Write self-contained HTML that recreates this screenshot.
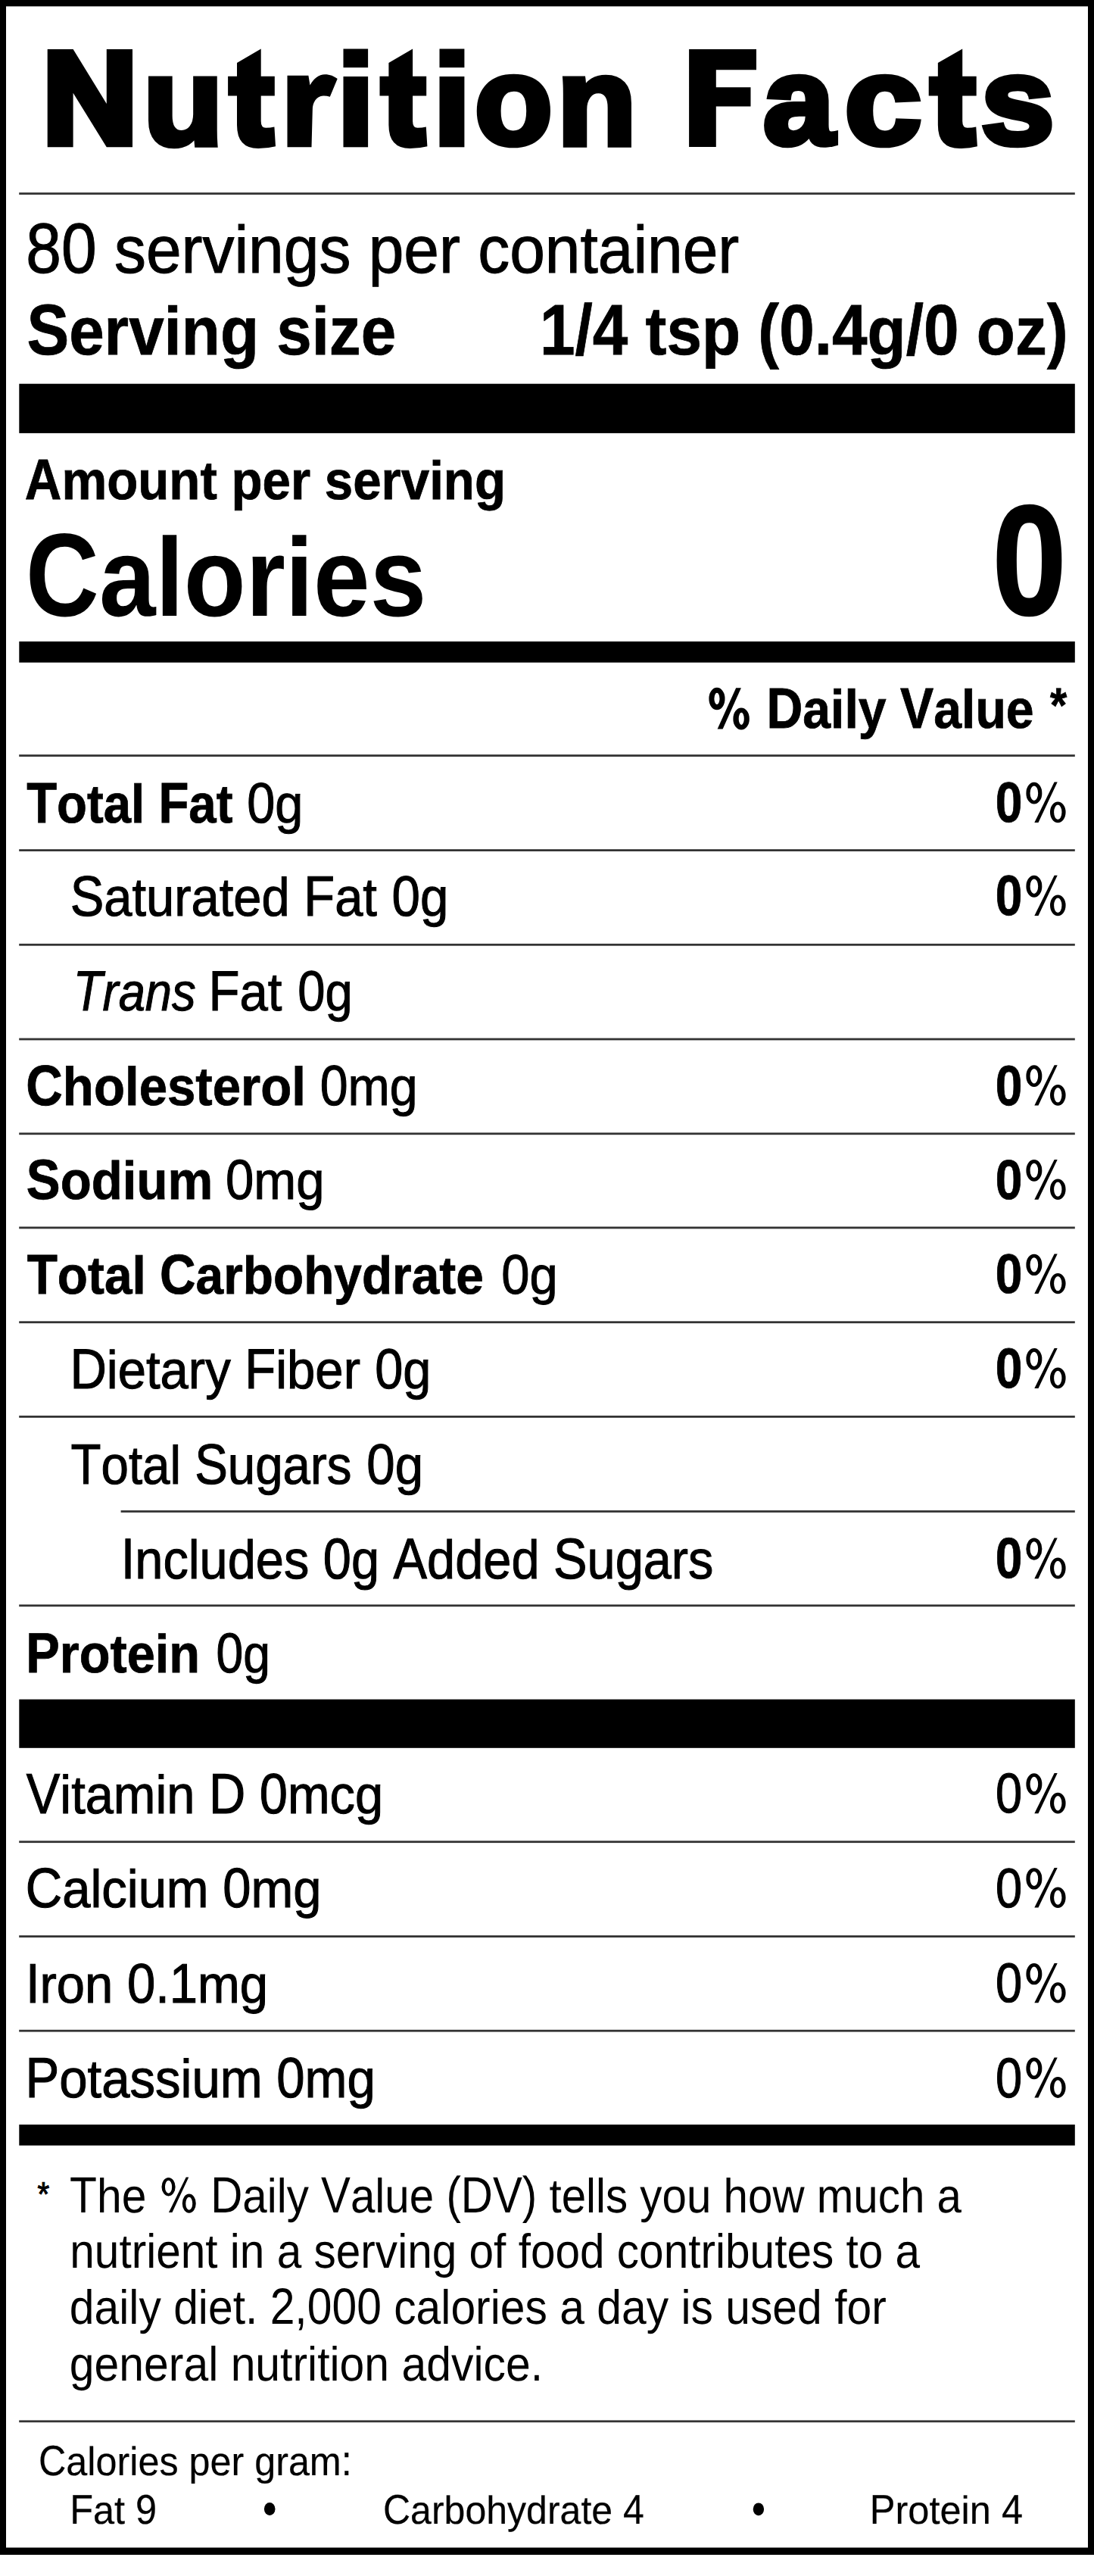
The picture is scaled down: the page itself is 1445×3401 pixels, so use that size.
<!DOCTYPE html>
<html><head><meta charset="utf-8"><style>
html,body{margin:0;padding:0;background:#fff;}
body{width:1445px;height:3401px;overflow:hidden;}
svg{display:block;}
svg text{font-family:"Liberation Sans",sans-serif;font-kerning:none;text-rendering:geometricPrecision;white-space:pre;}
</style></head><body>
<svg width="1445" height="3401" viewBox="0 0 1445 3401">
<rect x="0.00" y="0.00" width="1445.00" height="3373.00" fill="#000"/>
<rect x="8.00" y="8.40" width="1429.00" height="3355.10" fill="#fff"/>
<path d="M62.7,65.1 H96.6 L140.8,137 V65.1 H175 V194.3 H140.8 L96.6,122.7 V194.3 H62.7 Z" fill="#000"/>
<path d="M910.1,65.1 H999 V92.2 H945.8 V115.3 H991.5 V140.5 H945.8 V194 H910.1 Z" fill="#000"/>
<path transform="translate(301.10,0) scale(1.0000,1)" d="M11.9,83 L43.6,64.5 L43.6,100.7 L61.7,100.7 L61.7,126.6 L43.6,126.6 L43.6,160 Q43.6,168.8 50,168.8 Q56,168.8 61.3,167.5 L62.9,193.2 Q52,196 40,196 Q11.9,196 11.9,165 L11.9,126.6 L0,126.6 L0,100.7 L11.9,100.7 Z" fill="#000"/>
<path transform="translate(501.50,0) scale(1.0000,1)" d="M11.9,83 L43.6,64.5 L43.6,100.7 L61.7,100.7 L61.7,126.6 L43.6,126.6 L43.6,160 Q43.6,168.8 50,168.8 Q56,168.8 61.3,167.5 L62.9,193.2 Q52,196 40,196 Q11.9,196 11.9,165 L11.9,126.6 L0,126.6 L0,100.7 L11.9,100.7 Z" fill="#000"/>
<path transform="translate(1226.70,0) scale(1.0207,1)" d="M11.9,83 L43.6,64.5 L43.6,100.7 L61.7,100.7 L61.7,126.6 L43.6,126.6 L43.6,160 Q43.6,168.8 50,168.8 Q56,168.8 61.3,167.5 L62.9,193.2 Q52,196 40,196 Q11.9,196 11.9,165 L11.9,126.6 L0,126.6 L0,100.7 L11.9,100.7 Z" fill="#000"/>
<path d="M379.5,99.8 L407.4,99.8 L409.5,112.6 C414,104 421,98.2 429.2,98.2 C436,98.2 441,100.5 445.7,104 L435.8,127.8 C432.5,126.8 429.5,126.4 426.8,126.6 C418,127 412.8,135 412.8,145.5 L411.5,194.3 L379.5,194.3 Z" fill="#000"/>
<rect x="453.50" y="64.50" width="32.60" height="24.70" fill="#000"/>
<rect x="453.50" y="101.00" width="32.60" height="93.30" fill="#000"/>
<rect x="580.50" y="64.50" width="32.90" height="24.70" fill="#000"/>
<rect x="580.50" y="101.00" width="32.90" height="93.30" fill="#000"/>
<text transform="translate(189.23,190.75) scale(1.0524,1)" font-size="164.29" font-weight="700" font-style="normal" fill="#000" stroke="#000" stroke-width="7.50" stroke-linejoin="miter" stroke-miterlimit="2">u</text>
<text transform="translate(626.98,190.45) scale(1.0238,1)" font-size="164.28" font-weight="700" font-style="normal" fill="#000" stroke="#000" stroke-width="7.50" stroke-linejoin="miter" stroke-miterlimit="2">o</text>
<text transform="translate(735.82,190.75) scale(1.0461,1)" font-size="164.29" font-weight="700" font-style="normal" fill="#000" stroke="#000" stroke-width="7.50" stroke-linejoin="miter" stroke-miterlimit="2">n</text>
<text transform="translate(1007.89,190.45) scale(1.0298,1)" font-size="164.28" font-weight="700" font-style="normal" fill="#000" stroke="#000" stroke-width="7.50" stroke-linejoin="miter" stroke-miterlimit="2">a</text>
<text transform="translate(1115.39,190.45) scale(1.1156,1)" font-size="164.28" font-weight="700" font-style="normal" fill="#000" stroke="#000" stroke-width="7.50" stroke-linejoin="miter" stroke-miterlimit="2">c</text>
<text transform="translate(1295.60,190.45) scale(1.0650,1)" font-size="164.13" font-weight="700" font-style="normal" fill="#000" stroke="#000" stroke-width="7.50" stroke-linejoin="miter" stroke-miterlimit="2">s</text>
<rect x="25.20" y="254.20" width="1394.60" height="2.80" fill="#333"/>
<text transform="translate(34.30,359.65) scale(0.8992,1.0000)" font-size="93.31" font-weight="400" font-style="normal" fill="#000" stroke="#000" stroke-width="1.10" stroke-linejoin="miter" stroke-miterlimit="2">80 </text>
<text transform="translate(150.94,359.65) scale(0.8992,0.9453)" font-size="93.31" font-weight="400" font-style="normal" fill="#000" stroke="#000" stroke-width="1.10" stroke-linejoin="miter" stroke-miterlimit="2">servings per container</text>
<text transform="translate(35.39,468.00) scale(0.8819,1.0000)" font-size="94.77" font-weight="700" font-style="normal" fill="#000" stroke="#000" stroke-width="0.80" stroke-linejoin="miter" stroke-miterlimit="2">S</text>
<text transform="translate(91.14,468.00) scale(0.8819,0.9453)" font-size="94.77" font-weight="700" font-style="normal" fill="#000" stroke="#000" stroke-width="0.80" stroke-linejoin="miter" stroke-miterlimit="2">erving size</text>
<text transform="translate(712.93,467.80) scale(0.8860,1.0000)" font-size="94.48" font-weight="700" font-style="normal" fill="#000" stroke="#000" stroke-width="0.80" stroke-linejoin="miter" stroke-miterlimit="2">1/4 </text>
<text transform="translate(852.55,467.80) scale(0.8860,0.9453)" font-size="94.48" font-weight="700" font-style="normal" fill="#000" stroke="#000" stroke-width="0.80" stroke-linejoin="miter" stroke-miterlimit="2">tsp </text>
<text transform="translate(1001.37,467.80) scale(0.8860,1.0000)" font-size="94.48" font-weight="700" font-style="normal" fill="#000" stroke="#000" stroke-width="0.80" stroke-linejoin="miter" stroke-miterlimit="2">(0.4</text>
<text transform="translate(1145.61,467.80) scale(0.8860,0.9453)" font-size="94.48" font-weight="700" font-style="normal" fill="#000" stroke="#000" stroke-width="0.80" stroke-linejoin="miter" stroke-miterlimit="2">g</text>
<text transform="translate(1196.74,467.80) scale(0.8860,1.0000)" font-size="94.48" font-weight="700" font-style="normal" fill="#000" stroke="#000" stroke-width="0.80" stroke-linejoin="miter" stroke-miterlimit="2">/0 </text>
<text transform="translate(1289.81,467.80) scale(0.8860,0.9453)" font-size="94.48" font-weight="700" font-style="normal" fill="#000" stroke="#000" stroke-width="0.80" stroke-linejoin="miter" stroke-miterlimit="2">oz</text>
<text transform="translate(1382.79,467.80) scale(0.8860,1.0000)" font-size="94.48" font-weight="700" font-style="normal" fill="#000" stroke="#000" stroke-width="0.80" stroke-linejoin="miter" stroke-miterlimit="2">)</text>
<rect x="25.30" y="506.70" width="1394.50" height="65.20" fill="#000"/>
<text transform="translate(32.83,658.60) scale(0.8881,1.0000)" font-size="75.73" font-weight="700" font-style="normal" fill="#000" stroke="#000" stroke-width="0.80" stroke-linejoin="miter" stroke-miterlimit="2">A</text>
<text transform="translate(81.39,658.60) scale(0.8881,0.9453)" font-size="75.73" font-weight="700" font-style="normal" fill="#000" stroke="#000" stroke-width="0.80" stroke-linejoin="miter" stroke-miterlimit="2">mount per serving</text>
<text transform="translate(34.10,812.60) scale(0.8597,1.0000)" font-size="155.96" font-weight="700" font-style="normal" fill="#000">C</text>
<text transform="translate(130.93,812.60) scale(0.8597,0.9453)" font-size="155.96" font-weight="700" font-style="normal" fill="#000">alories</text>
<text transform="translate(1310.80,810.73) scale(0.8519,1)" font-size="206.35" font-weight="700" font-style="normal" fill="#000" stroke="#000" stroke-width="2.50" stroke-linejoin="miter" stroke-miterlimit="2">0</text>
<rect x="25.30" y="846.90" width="1394.50" height="27.80" fill="#000"/>
<path fill-rule="evenodd" d="M936.40,922.55 a10.55,14.25 0 1,0 21.09,0 a10.55,14.25 0 1,0 -21.09,0 Z M943.40,922.41 a3.55,7.71 0 1,0 7.10,0 a3.55,7.71 0 1,0 -7.10,0 Z M968.39,948.94 a10.71,14.06 0 1,0 21.41,0 a10.71,14.06 0 1,0 -21.41,0 Z M975.70,948.89 a3.55,7.99 0 1,0 7.10,0 a3.55,7.99 0 1,0 -7.10,0 Z " fill="#000"/>
<path d="M972.18,908.30 L978.91,908.30 L954.61,962.45 L947.61,962.45 Z" fill="#000"/>
<text transform="translate(1012.47,960.70) scale(0.8741,1.0000)" font-size="75.73" font-weight="700" font-style="normal" fill="#000" stroke="#000" stroke-width="0.80" stroke-linejoin="miter" stroke-miterlimit="2">D</text>
<text transform="translate(1060.27,960.70) scale(0.8741,0.9453)" font-size="75.73" font-weight="700" font-style="normal" fill="#000" stroke="#000" stroke-width="0.80" stroke-linejoin="miter" stroke-miterlimit="2">aily </text>
<text transform="translate(1189.07,960.70) scale(0.8741,1.0000)" font-size="75.73" font-weight="700" font-style="normal" fill="#000" stroke="#000" stroke-width="0.80" stroke-linejoin="miter" stroke-miterlimit="2">V</text>
<text transform="translate(1233.22,960.70) scale(0.8741,0.9453)" font-size="75.73" font-weight="700" font-style="normal" fill="#000" stroke="#000" stroke-width="0.80" stroke-linejoin="miter" stroke-miterlimit="2">alue</text>
<text transform="translate(1386.93,952.89) scale(0.8890,1)" font-size="64.24" font-weight="700" font-style="normal" fill="#000" stroke="#000" stroke-width="0.80" stroke-linejoin="miter" stroke-miterlimit="2">*</text>
<rect x="25.20" y="996.20" width="1394.60" height="2.80" fill="#333"/>
<text transform="translate(35.17,1085.70) scale(0.8628,1.0000)" font-size="75.73" font-weight="700" font-style="normal" fill="#000" stroke="#000" stroke-width="0.80" stroke-linejoin="miter" stroke-miterlimit="2">T</text>
<text transform="translate(75.08,1085.70) scale(0.8628,0.9453)" font-size="75.73" font-weight="700" font-style="normal" fill="#000" stroke="#000" stroke-width="0.80" stroke-linejoin="miter" stroke-miterlimit="2">otal </text>
<text transform="translate(209.39,1085.70) scale(0.8628,1.0000)" font-size="75.73" font-weight="700" font-style="normal" fill="#000" stroke="#000" stroke-width="0.80" stroke-linejoin="miter" stroke-miterlimit="2">F</text>
<text transform="translate(249.30,1085.70) scale(0.8628,0.9453)" font-size="75.73" font-weight="700" font-style="normal" fill="#000" stroke="#000" stroke-width="0.80" stroke-linejoin="miter" stroke-miterlimit="2">at</text>
<text transform="translate(326.14,1085.55) scale(0.8861,1.0000)" font-size="75.29" font-weight="400" font-style="normal" fill="#000" stroke="#000" stroke-width="1.10" stroke-linejoin="miter" stroke-miterlimit="2">0</text>
<text transform="translate(363.25,1085.55) scale(0.8861,0.9453)" font-size="75.29" font-weight="400" font-style="normal" fill="#000" stroke="#000" stroke-width="1.10" stroke-linejoin="miter" stroke-miterlimit="2">g</text>
<text transform="translate(1314.86,1085.17) scale(0.8551,1)" font-size="75.00" font-weight="700" font-style="normal" fill="#000" stroke="#000" stroke-width="0.80" stroke-linejoin="miter" stroke-miterlimit="2">0</text>
<path fill-rule="evenodd" d="M1355.40,1047.13 a10.47,14.04 0 1,0 20.93,0 a10.47,14.04 0 1,0 -20.93,0 Z M1360.57,1047.13 a5.30,9.75 0 1,0 10.60,0 a5.30,9.75 0 1,0 -10.60,0 Z M1386.98,1072.34 a10.31,13.96 0 1,0 20.62,0 a10.31,13.96 0 1,0 -20.62,0 Z M1392.10,1072.34 a5.17,9.77 0 1,0 10.34,0 a5.17,9.77 0 1,0 -10.34,0 Z " fill="#000"/>
<path d="M1392.62,1032.60 L1396.69,1032.60 L1371.48,1085.98 L1366.31,1085.98 Z" fill="#000"/>
<rect x="25.20" y="1121.20" width="1394.60" height="2.80" fill="#333"/>
<text transform="translate(92.71,1208.55) scale(0.8900,1.0000)" font-size="75.15" font-weight="400" font-style="normal" fill="#000" stroke="#000" stroke-width="1.10" stroke-linejoin="miter" stroke-miterlimit="2">S</text>
<text transform="translate(137.32,1208.55) scale(0.8900,0.9453)" font-size="75.15" font-weight="400" font-style="normal" fill="#000" stroke="#000" stroke-width="1.10" stroke-linejoin="miter" stroke-miterlimit="2">aturated </text>
<text transform="translate(401.31,1208.55) scale(0.8900,1.0000)" font-size="75.15" font-weight="400" font-style="normal" fill="#000" stroke="#000" stroke-width="1.10" stroke-linejoin="miter" stroke-miterlimit="2">F</text>
<text transform="translate(442.16,1208.55) scale(0.8900,0.9453)" font-size="75.15" font-weight="400" font-style="normal" fill="#000" stroke="#000" stroke-width="1.10" stroke-linejoin="miter" stroke-miterlimit="2">at</text>
<text transform="translate(517.52,1208.55) scale(0.8957,1.0000)" font-size="75.15" font-weight="400" font-style="normal" fill="#000" stroke="#000" stroke-width="1.10" stroke-linejoin="miter" stroke-miterlimit="2">0</text>
<text transform="translate(554.95,1208.55) scale(0.8957,0.9453)" font-size="75.15" font-weight="400" font-style="normal" fill="#000" stroke="#000" stroke-width="1.10" stroke-linejoin="miter" stroke-miterlimit="2">g</text>
<text transform="translate(1314.86,1208.17) scale(0.8567,1)" font-size="74.86" font-weight="700" font-style="normal" fill="#000" stroke="#000" stroke-width="0.80" stroke-linejoin="miter" stroke-miterlimit="2">0</text>
<path fill-rule="evenodd" d="M1355.40,1170.20 a10.47,14.02 0 1,0 20.93,0 a10.47,14.02 0 1,0 -20.93,0 Z M1360.57,1170.20 a5.30,9.73 0 1,0 10.60,0 a5.30,9.73 0 1,0 -10.60,0 Z M1386.98,1195.36 a10.31,13.94 0 1,0 20.62,0 a10.31,13.94 0 1,0 -20.62,0 Z M1392.10,1195.36 a5.17,9.76 0 1,0 10.34,0 a5.17,9.76 0 1,0 -10.34,0 Z " fill="#000"/>
<path d="M1392.62,1155.70 L1396.69,1155.70 L1371.48,1208.98 L1366.31,1208.98 Z" fill="#000"/>
<rect x="25.20" y="1245.90" width="1394.60" height="2.80" fill="#333"/>
<text transform="translate(96.86,1333.85) scale(0.8461,1.0000)" font-size="74.85" font-weight="400" font-style="italic" fill="#000" stroke="#000" stroke-width="1.10" stroke-linejoin="miter" stroke-miterlimit="2">T</text>
<text transform="translate(135.55,1333.85) scale(0.8461,0.9453)" font-size="74.85" font-weight="400" font-style="italic" fill="#000" stroke="#000" stroke-width="1.10" stroke-linejoin="miter" stroke-miterlimit="2">rans</text>
<text transform="translate(275.44,1333.85) scale(0.8969,1.0000)" font-size="74.85" font-weight="400" font-style="normal" fill="#000" stroke="#000" stroke-width="1.10" stroke-linejoin="miter" stroke-miterlimit="2">F</text>
<text transform="translate(316.45,1333.85) scale(0.8969,0.9453)" font-size="74.85" font-weight="400" font-style="normal" fill="#000" stroke="#000" stroke-width="1.10" stroke-linejoin="miter" stroke-miterlimit="2">at</text>
<text transform="translate(393.21,1333.85) scale(0.8701,1.0000)" font-size="74.85" font-weight="400" font-style="normal" fill="#000" stroke="#000" stroke-width="1.10" stroke-linejoin="miter" stroke-miterlimit="2">0</text>
<text transform="translate(429.43,1333.85) scale(0.8701,0.9453)" font-size="74.85" font-weight="400" font-style="normal" fill="#000" stroke="#000" stroke-width="1.10" stroke-linejoin="miter" stroke-miterlimit="2">g</text>
<rect x="25.20" y="1370.60" width="1394.60" height="2.80" fill="#333"/>
<text transform="translate(34.34,1459.10) scale(0.8907,1.0000)" font-size="75.44" font-weight="700" font-style="normal" fill="#000" stroke="#000" stroke-width="0.80" stroke-linejoin="miter" stroke-miterlimit="2">C</text>
<text transform="translate(82.87,1459.10) scale(0.8907,0.9453)" font-size="75.44" font-weight="700" font-style="normal" fill="#000" stroke="#000" stroke-width="0.80" stroke-linejoin="miter" stroke-miterlimit="2">holesterol</text>
<text transform="translate(422.66,1458.95) scale(0.8839,1.0000)" font-size="75.00" font-weight="400" font-style="normal" fill="#000" stroke="#000" stroke-width="1.10" stroke-linejoin="miter" stroke-miterlimit="2">0</text>
<text transform="translate(459.53,1458.95) scale(0.8839,0.9453)" font-size="75.00" font-weight="400" font-style="normal" fill="#000" stroke="#000" stroke-width="1.10" stroke-linejoin="miter" stroke-miterlimit="2">mg</text>
<text transform="translate(1314.86,1458.57) scale(0.8583,1)" font-size="74.72" font-weight="700" font-style="normal" fill="#000" stroke="#000" stroke-width="0.80" stroke-linejoin="miter" stroke-miterlimit="2">0</text>
<path fill-rule="evenodd" d="M1355.40,1420.67 a10.47,13.99 0 1,0 20.93,0 a10.47,13.99 0 1,0 -20.93,0 Z M1360.57,1420.67 a5.30,9.71 0 1,0 10.60,0 a5.30,9.71 0 1,0 -10.60,0 Z M1386.98,1445.79 a10.31,13.91 0 1,0 20.62,0 a10.31,13.91 0 1,0 -20.62,0 Z M1392.10,1445.79 a5.17,9.74 0 1,0 10.34,0 a5.17,9.74 0 1,0 -10.34,0 Z " fill="#000"/>
<path d="M1392.62,1406.20 L1396.69,1406.20 L1371.48,1459.38 L1366.31,1459.38 Z" fill="#000"/>
<rect x="25.20" y="1495.40" width="1394.60" height="2.80" fill="#333"/>
<text transform="translate(34.86,1583.40) scale(0.8992,1.0000)" font-size="74.71" font-weight="700" font-style="normal" fill="#000" stroke="#000" stroke-width="0.80" stroke-linejoin="miter" stroke-miterlimit="2">S</text>
<text transform="translate(79.67,1583.40) scale(0.8992,0.9453)" font-size="74.71" font-weight="700" font-style="normal" fill="#000" stroke="#000" stroke-width="0.80" stroke-linejoin="miter" stroke-miterlimit="2">odium</text>
<text transform="translate(297.93,1583.25) scale(0.9035,1.0000)" font-size="74.27" font-weight="400" font-style="normal" fill="#000" stroke="#000" stroke-width="1.10" stroke-linejoin="miter" stroke-miterlimit="2">0</text>
<text transform="translate(335.25,1583.25) scale(0.9035,0.9453)" font-size="74.27" font-weight="400" font-style="normal" fill="#000" stroke="#000" stroke-width="1.10" stroke-linejoin="miter" stroke-miterlimit="2">mg</text>
<text transform="translate(1314.86,1582.88) scale(0.8665,1)" font-size="74.01" font-weight="700" font-style="normal" fill="#000" stroke="#000" stroke-width="0.80" stroke-linejoin="miter" stroke-miterlimit="2">0</text>
<path fill-rule="evenodd" d="M1355.40,1545.34 a10.47,13.86 0 1,0 20.93,0 a10.47,13.86 0 1,0 -20.93,0 Z M1360.57,1545.34 a5.30,9.62 0 1,0 10.60,0 a5.30,9.62 0 1,0 -10.60,0 Z M1386.98,1570.22 a10.31,13.78 0 1,0 20.62,0 a10.31,13.78 0 1,0 -20.62,0 Z M1392.10,1570.22 a5.17,9.65 0 1,0 10.34,0 a5.17,9.65 0 1,0 -10.34,0 Z " fill="#000"/>
<path d="M1392.62,1531.00 L1396.69,1531.00 L1371.48,1583.68 L1366.31,1583.68 Z" fill="#000"/>
<rect x="25.20" y="1619.50" width="1394.60" height="2.80" fill="#333"/>
<text transform="translate(35.66,1707.70) scale(0.8858,1.0000)" font-size="74.27" font-weight="700" font-style="normal" fill="#000" stroke="#000" stroke-width="0.80" stroke-linejoin="miter" stroke-miterlimit="2">T</text>
<text transform="translate(75.85,1707.70) scale(0.8858,0.9453)" font-size="74.27" font-weight="700" font-style="normal" fill="#000" stroke="#000" stroke-width="0.80" stroke-linejoin="miter" stroke-miterlimit="2">otal </text>
<text transform="translate(211.10,1707.70) scale(0.8858,1.0000)" font-size="74.27" font-weight="700" font-style="normal" fill="#000" stroke="#000" stroke-width="0.80" stroke-linejoin="miter" stroke-miterlimit="2">C</text>
<text transform="translate(258.61,1707.70) scale(0.8858,0.9453)" font-size="74.27" font-weight="700" font-style="normal" fill="#000" stroke="#000" stroke-width="0.80" stroke-linejoin="miter" stroke-miterlimit="2">arbohydrate</text>
<text transform="translate(662.34,1707.55) scale(0.9062,1.0000)" font-size="73.84" font-weight="400" font-style="normal" fill="#000" stroke="#000" stroke-width="1.10" stroke-linejoin="miter" stroke-miterlimit="2">0</text>
<text transform="translate(699.55,1707.55) scale(0.9062,0.9453)" font-size="73.84" font-weight="400" font-style="normal" fill="#000" stroke="#000" stroke-width="1.10" stroke-linejoin="miter" stroke-miterlimit="2">g</text>
<text transform="translate(1314.86,1707.18) scale(0.8715,1)" font-size="73.59" font-weight="700" font-style="normal" fill="#000" stroke="#000" stroke-width="0.80" stroke-linejoin="miter" stroke-miterlimit="2">0</text>
<path fill-rule="evenodd" d="M1355.40,1669.86 a10.47,13.78 0 1,0 20.93,0 a10.47,13.78 0 1,0 -20.93,0 Z M1360.57,1669.86 a5.30,9.57 0 1,0 10.60,0 a5.30,9.57 0 1,0 -10.60,0 Z M1386.98,1694.60 a10.31,13.70 0 1,0 20.62,0 a10.31,13.70 0 1,0 -20.62,0 Z M1392.10,1694.60 a5.17,9.59 0 1,0 10.34,0 a5.17,9.59 0 1,0 -10.34,0 Z " fill="#000"/>
<path d="M1392.62,1655.60 L1396.69,1655.60 L1371.48,1707.98 L1366.31,1707.98 Z" fill="#000"/>
<rect x="25.20" y="1744.30" width="1394.60" height="2.80" fill="#333"/>
<text transform="translate(92.45,1832.55) scale(0.8951,1.0000)" font-size="74.85" font-weight="400" font-style="normal" fill="#000" stroke="#000" stroke-width="1.10" stroke-linejoin="miter" stroke-miterlimit="2">D</text>
<text transform="translate(140.84,1832.55) scale(0.8951,0.9453)" font-size="74.85" font-weight="400" font-style="normal" fill="#000" stroke="#000" stroke-width="1.10" stroke-linejoin="miter" stroke-miterlimit="2">ietary </text>
<text transform="translate(323.30,1832.55) scale(0.8951,1.0000)" font-size="74.85" font-weight="400" font-style="normal" fill="#000" stroke="#000" stroke-width="1.10" stroke-linejoin="miter" stroke-miterlimit="2">F</text>
<text transform="translate(364.23,1832.55) scale(0.8951,0.9453)" font-size="74.85" font-weight="400" font-style="normal" fill="#000" stroke="#000" stroke-width="1.10" stroke-linejoin="miter" stroke-miterlimit="2">iber</text>
<text transform="translate(495.24,1832.55) scale(0.8912,1.0000)" font-size="74.85" font-weight="400" font-style="normal" fill="#000" stroke="#000" stroke-width="1.10" stroke-linejoin="miter" stroke-miterlimit="2">0</text>
<text transform="translate(532.35,1832.55) scale(0.8912,0.9453)" font-size="74.85" font-weight="400" font-style="normal" fill="#000" stroke="#000" stroke-width="1.10" stroke-linejoin="miter" stroke-miterlimit="2">g</text>
<text transform="translate(1314.86,1832.17) scale(0.8600,1)" font-size="74.58" font-weight="700" font-style="normal" fill="#000" stroke="#000" stroke-width="0.80" stroke-linejoin="miter" stroke-miterlimit="2">0</text>
<path fill-rule="evenodd" d="M1355.40,1794.34 a10.47,13.96 0 1,0 20.93,0 a10.47,13.96 0 1,0 -20.93,0 Z M1360.57,1794.34 a5.30,9.69 0 1,0 10.60,0 a5.30,9.69 0 1,0 -10.60,0 Z M1386.98,1819.42 a10.31,13.88 0 1,0 20.62,0 a10.31,13.88 0 1,0 -20.62,0 Z M1392.10,1819.42 a5.17,9.72 0 1,0 10.34,0 a5.17,9.72 0 1,0 -10.34,0 Z " fill="#000"/>
<path d="M1392.62,1779.90 L1396.69,1779.90 L1371.48,1832.98 L1366.31,1832.98 Z" fill="#000"/>
<rect x="25.20" y="1869.00" width="1394.60" height="2.80" fill="#333"/>
<text transform="translate(93.58,1958.65) scale(0.8688,1.0000)" font-size="75.29" font-weight="400" font-style="normal" fill="#000" stroke="#000" stroke-width="1.10" stroke-linejoin="miter" stroke-miterlimit="2">T</text>
<text transform="translate(133.54,1958.65) scale(0.8688,0.9453)" font-size="75.29" font-weight="400" font-style="normal" fill="#000" stroke="#000" stroke-width="1.10" stroke-linejoin="miter" stroke-miterlimit="2">otal </text>
<text transform="translate(257.17,1958.65) scale(0.8688,1.0000)" font-size="75.29" font-weight="400" font-style="normal" fill="#000" stroke="#000" stroke-width="1.10" stroke-linejoin="miter" stroke-miterlimit="2">S</text>
<text transform="translate(300.79,1958.65) scale(0.8688,0.9453)" font-size="75.29" font-weight="400" font-style="normal" fill="#000" stroke="#000" stroke-width="1.10" stroke-linejoin="miter" stroke-miterlimit="2">ugars</text>
<text transform="translate(484.32,1958.65) scale(0.8927,1.0000)" font-size="75.29" font-weight="400" font-style="normal" fill="#000" stroke="#000" stroke-width="1.10" stroke-linejoin="miter" stroke-miterlimit="2">0</text>
<text transform="translate(521.70,1958.65) scale(0.8927,0.9453)" font-size="75.29" font-weight="400" font-style="normal" fill="#000" stroke="#000" stroke-width="1.10" stroke-linejoin="miter" stroke-miterlimit="2">g</text>
<rect x="159.60" y="1994.10" width="1260.20" height="2.80" fill="#333"/>
<text transform="translate(159.79,2083.85) scale(0.8777,1.0000)" font-size="76.02" font-weight="400" font-style="normal" fill="#000" stroke="#000" stroke-width="1.10" stroke-linejoin="miter" stroke-miterlimit="2">I</text>
<text transform="translate(178.33,2083.85) scale(0.8777,0.9453)" font-size="76.02" font-weight="400" font-style="normal" fill="#000" stroke="#000" stroke-width="1.10" stroke-linejoin="miter" stroke-miterlimit="2">ncludes </text>
<text transform="translate(426.84,2083.85) scale(0.8777,1.0000)" font-size="76.02" font-weight="400" font-style="normal" fill="#000" stroke="#000" stroke-width="1.10" stroke-linejoin="miter" stroke-miterlimit="2">0</text>
<text transform="translate(463.95,2083.85) scale(0.8777,0.9453)" font-size="76.02" font-weight="400" font-style="normal" fill="#000" stroke="#000" stroke-width="1.10" stroke-linejoin="miter" stroke-miterlimit="2">g </text>
<text transform="translate(519.59,2083.85) scale(0.8777,1.0000)" font-size="76.02" font-weight="400" font-style="normal" fill="#000" stroke="#000" stroke-width="1.10" stroke-linejoin="miter" stroke-miterlimit="2">A</text>
<text transform="translate(564.09,2083.85) scale(0.8777,0.9453)" font-size="76.02" font-weight="400" font-style="normal" fill="#000" stroke="#000" stroke-width="1.10" stroke-linejoin="miter" stroke-miterlimit="2">dded </text>
<text transform="translate(731.06,2083.85) scale(0.8777,1.0000)" font-size="76.02" font-weight="400" font-style="normal" fill="#000" stroke="#000" stroke-width="1.10" stroke-linejoin="miter" stroke-miterlimit="2">S</text>
<text transform="translate(775.56,2083.85) scale(0.8777,0.9453)" font-size="76.02" font-weight="400" font-style="normal" fill="#000" stroke="#000" stroke-width="1.10" stroke-linejoin="miter" stroke-miterlimit="2">ugars</text>
<text transform="translate(1314.86,2083.46) scale(0.8471,1)" font-size="75.71" font-weight="700" font-style="normal" fill="#000" stroke="#000" stroke-width="0.80" stroke-linejoin="miter" stroke-miterlimit="2">0</text>
<path fill-rule="evenodd" d="M1355.40,2045.06 a10.47,14.17 0 1,0 20.93,0 a10.47,14.17 0 1,0 -20.93,0 Z M1360.57,2045.06 a5.30,9.84 0 1,0 10.60,0 a5.30,9.84 0 1,0 -10.60,0 Z M1386.98,2070.51 a10.31,14.09 0 1,0 20.62,0 a10.31,14.09 0 1,0 -20.62,0 Z M1392.10,2070.51 a5.17,9.86 0 1,0 10.34,0 a5.17,9.86 0 1,0 -10.34,0 Z " fill="#000"/>
<path d="M1392.62,2030.40 L1396.69,2030.40 L1371.48,2084.27 L1366.31,2084.27 Z" fill="#000"/>
<rect x="25.20" y="2118.40" width="1394.60" height="2.80" fill="#333"/>
<text transform="translate(34.13,2208.00) scale(0.8903,1.0000)" font-size="75.00" font-weight="700" font-style="normal" fill="#000" stroke="#000" stroke-width="0.80" stroke-linejoin="miter" stroke-miterlimit="2">P</text>
<text transform="translate(78.67,2208.00) scale(0.8903,0.9453)" font-size="75.00" font-weight="700" font-style="normal" fill="#000" stroke="#000" stroke-width="0.80" stroke-linejoin="miter" stroke-miterlimit="2">rotein</text>
<text transform="translate(285.54,2207.85) scale(0.8615,1.0000)" font-size="74.56" font-weight="400" font-style="normal" fill="#000" stroke="#000" stroke-width="1.10" stroke-linejoin="miter" stroke-miterlimit="2">0</text>
<text transform="translate(321.27,2207.85) scale(0.8615,0.9453)" font-size="74.56" font-weight="400" font-style="normal" fill="#000" stroke="#000" stroke-width="1.10" stroke-linejoin="miter" stroke-miterlimit="2">g</text>
<rect x="25.30" y="2243.60" width="1394.50" height="64.20" fill="#000"/>
<text transform="translate(34.76,2393.85) scale(0.8906,1.0000)" font-size="75.00" font-weight="400" font-style="normal" fill="#000" stroke="#000" stroke-width="1.10" stroke-linejoin="miter" stroke-miterlimit="2">V</text>
<text transform="translate(79.31,2393.85) scale(0.8906,0.9453)" font-size="75.00" font-weight="400" font-style="normal" fill="#000" stroke="#000" stroke-width="1.10" stroke-linejoin="miter" stroke-miterlimit="2">itamin </text>
<text transform="translate(276.03,2393.85) scale(0.8906,1.0000)" font-size="75.00" font-weight="400" font-style="normal" fill="#000" stroke="#000" stroke-width="1.10" stroke-linejoin="miter" stroke-miterlimit="2">D 0</text>
<text transform="translate(379.97,2393.85) scale(0.8906,0.9453)" font-size="75.00" font-weight="400" font-style="normal" fill="#000" stroke="#000" stroke-width="1.10" stroke-linejoin="miter" stroke-miterlimit="2">mcg</text>
<text transform="translate(1315.08,2393.32) scale(0.8504,1)" font-size="74.29" font-weight="400" font-style="normal" fill="#000" stroke="#000" stroke-width="1.10" stroke-linejoin="miter" stroke-miterlimit="2">0</text>
<path fill-rule="evenodd" d="M1355.40,2355.57 a10.47,13.99 0 1,0 20.93,0 a10.47,13.99 0 1,0 -20.93,0 Z M1360.57,2355.57 a5.30,9.71 0 1,0 10.60,0 a5.30,9.71 0 1,0 -10.60,0 Z M1386.98,2380.69 a10.31,13.91 0 1,0 20.62,0 a10.31,13.91 0 1,0 -20.62,0 Z M1392.10,2380.69 a5.17,9.74 0 1,0 10.34,0 a5.17,9.74 0 1,0 -10.34,0 Z " fill="#000"/>
<path d="M1392.62,2341.10 L1396.69,2341.10 L1371.48,2394.28 L1366.31,2394.28 Z" fill="#000"/>
<rect x="25.20" y="2430.30" width="1394.60" height="2.80" fill="#333"/>
<text transform="translate(33.85,2518.15) scale(0.9049,1.0000)" font-size="73.98" font-weight="400" font-style="normal" fill="#000" stroke="#000" stroke-width="1.10" stroke-linejoin="miter" stroke-miterlimit="2">C</text>
<text transform="translate(82.20,2518.15) scale(0.9049,0.9453)" font-size="73.98" font-weight="400" font-style="normal" fill="#000" stroke="#000" stroke-width="1.10" stroke-linejoin="miter" stroke-miterlimit="2">alcium </text>
<text transform="translate(294.24,2518.15) scale(0.9049,1.0000)" font-size="73.98" font-weight="400" font-style="normal" fill="#000" stroke="#000" stroke-width="1.10" stroke-linejoin="miter" stroke-miterlimit="2">0</text>
<text transform="translate(331.47,2518.15) scale(0.9049,0.9453)" font-size="73.98" font-weight="400" font-style="normal" fill="#000" stroke="#000" stroke-width="1.10" stroke-linejoin="miter" stroke-miterlimit="2">mg</text>
<text transform="translate(1315.08,2517.63) scale(0.8618,1)" font-size="73.30" font-weight="400" font-style="normal" fill="#000" stroke="#000" stroke-width="1.10" stroke-linejoin="miter" stroke-miterlimit="2">0</text>
<path fill-rule="evenodd" d="M1355.40,2480.38 a10.47,13.81 0 1,0 20.93,0 a10.47,13.81 0 1,0 -20.93,0 Z M1360.57,2480.38 a5.30,9.58 0 1,0 10.60,0 a5.30,9.58 0 1,0 -10.60,0 Z M1386.98,2505.17 a10.31,13.73 0 1,0 20.62,0 a10.31,13.73 0 1,0 -20.62,0 Z M1392.10,2505.17 a5.17,9.61 0 1,0 10.34,0 a5.17,9.61 0 1,0 -10.34,0 Z " fill="#000"/>
<path d="M1392.62,2466.10 L1396.69,2466.10 L1371.48,2518.58 L1366.31,2518.58 Z" fill="#000"/>
<rect x="25.20" y="2555.20" width="1394.60" height="2.80" fill="#333"/>
<text transform="translate(33.97,2643.85) scale(0.9069,1.0000)" font-size="73.84" font-weight="400" font-style="normal" fill="#000" stroke="#000" stroke-width="1.10" stroke-linejoin="miter" stroke-miterlimit="2">I</text>
<text transform="translate(52.57,2643.85) scale(0.9069,0.9453)" font-size="73.84" font-weight="400" font-style="normal" fill="#000" stroke="#000" stroke-width="1.10" stroke-linejoin="miter" stroke-miterlimit="2">ron </text>
<text transform="translate(167.96,2643.85) scale(0.9069,1.0000)" font-size="73.84" font-weight="400" font-style="normal" fill="#000" stroke="#000" stroke-width="1.10" stroke-linejoin="miter" stroke-miterlimit="2">0.1</text>
<text transform="translate(261.05,2643.85) scale(0.9069,0.9453)" font-size="73.84" font-weight="400" font-style="normal" fill="#000" stroke="#000" stroke-width="1.10" stroke-linejoin="miter" stroke-miterlimit="2">mg</text>
<text transform="translate(1315.08,2643.34) scale(0.8635,1)" font-size="73.16" font-weight="400" font-style="normal" fill="#000" stroke="#000" stroke-width="1.10" stroke-linejoin="miter" stroke-miterlimit="2">0</text>
<path fill-rule="evenodd" d="M1355.40,2606.16 a10.47,13.78 0 1,0 20.93,0 a10.47,13.78 0 1,0 -20.93,0 Z M1360.57,2606.16 a5.30,9.57 0 1,0 10.60,0 a5.30,9.57 0 1,0 -10.60,0 Z M1386.98,2630.90 a10.31,13.70 0 1,0 20.62,0 a10.31,13.70 0 1,0 -20.62,0 Z M1392.10,2630.90 a5.17,9.59 0 1,0 10.34,0 a5.17,9.59 0 1,0 -10.34,0 Z " fill="#000"/>
<path d="M1392.62,2591.90 L1396.69,2591.90 L1371.48,2644.28 L1366.31,2644.28 Z" fill="#000"/>
<rect x="25.20" y="2679.80" width="1394.60" height="2.80" fill="#333"/>
<text transform="translate(33.55,2769.15) scale(0.8943,1.0000)" font-size="75.00" font-weight="400" font-style="normal" fill="#000" stroke="#000" stroke-width="1.10" stroke-linejoin="miter" stroke-miterlimit="2">P</text>
<text transform="translate(78.28,2769.15) scale(0.8943,0.9453)" font-size="75.00" font-weight="400" font-style="normal" fill="#000" stroke="#000" stroke-width="1.10" stroke-linejoin="miter" stroke-miterlimit="2">otassium </text>
<text transform="translate(365.30,2769.15) scale(0.8943,1.0000)" font-size="75.00" font-weight="400" font-style="normal" fill="#000" stroke="#000" stroke-width="1.10" stroke-linejoin="miter" stroke-miterlimit="2">0</text>
<text transform="translate(402.60,2769.15) scale(0.8943,0.9453)" font-size="75.00" font-weight="400" font-style="normal" fill="#000" stroke="#000" stroke-width="1.10" stroke-linejoin="miter" stroke-miterlimit="2">mg</text>
<text transform="translate(1315.08,2768.62) scale(0.8504,1)" font-size="74.29" font-weight="400" font-style="normal" fill="#000" stroke="#000" stroke-width="1.10" stroke-linejoin="miter" stroke-miterlimit="2">0</text>
<path fill-rule="evenodd" d="M1355.40,2730.87 a10.47,13.99 0 1,0 20.93,0 a10.47,13.99 0 1,0 -20.93,0 Z M1360.57,2730.87 a5.30,9.71 0 1,0 10.60,0 a5.30,9.71 0 1,0 -10.60,0 Z M1386.98,2755.99 a10.31,13.91 0 1,0 20.62,0 a10.31,13.91 0 1,0 -20.62,0 Z M1392.10,2755.99 a5.17,9.74 0 1,0 10.34,0 a5.17,9.74 0 1,0 -10.34,0 Z " fill="#000"/>
<path d="M1392.62,2716.40 L1396.69,2716.40 L1371.48,2769.58 L1366.31,2769.58 Z" fill="#000"/>
<rect x="25.30" y="2805.00" width="1394.50" height="27.60" fill="#000"/>
<text transform="translate(49.60,2912.32) scale(0.9009,1)" font-size="44.72" font-weight="400" font-style="normal" fill="#000" stroke="#000" stroke-width="1.10" stroke-linejoin="miter" stroke-miterlimit="2">*</text>
<text transform="translate(92.08,2920.90) scale(0.8739,1.0000)" font-size="67.30" font-weight="400" font-style="normal" fill="#000">T</text>
<text transform="translate(128.00,2920.90) scale(0.8739,0.9453)" font-size="67.30" font-weight="400" font-style="normal" fill="#000">he</text>
<path fill-rule="evenodd" d="M213.50,2887.23 a9.06,12.21 0 1,0 18.13,0 a9.06,12.21 0 1,0 -18.13,0 Z M217.97,2887.23 a4.59,8.48 0 1,0 9.18,0 a4.59,8.48 0 1,0 -9.18,0 Z M240.85,2909.16 a8.93,12.14 0 1,0 17.85,0 a8.93,12.14 0 1,0 -17.85,0 Z M245.28,2909.16 a4.47,8.50 0 1,0 8.95,0 a4.47,8.50 0 1,0 -8.95,0 Z " fill="#000"/>
<path d="M245.73,2874.60 L249.25,2874.60 L227.42,2921.02 L222.95,2921.02 Z" fill="#000"/>
<text transform="translate(278.22,2920.90) scale(0.8666,1.0000)" font-size="67.30" font-weight="400" font-style="normal" fill="#000">D</text>
<text transform="translate(320.33,2920.90) scale(0.8666,0.9453)" font-size="67.30" font-weight="400" font-style="normal" fill="#000">aily </text>
<text transform="translate(424.04,2920.90) scale(0.8666,1.0000)" font-size="67.30" font-weight="400" font-style="normal" fill="#000">V</text>
<text transform="translate(462.93,2920.90) scale(0.8666,0.9453)" font-size="67.30" font-weight="400" font-style="normal" fill="#000">alue </text>
<text transform="translate(589.39,2920.90) scale(0.8666,1.0000)" font-size="67.30" font-weight="400" font-style="normal" fill="#000">(DV) </text>
<text transform="translate(725.44,2920.90) scale(0.8666,0.9453)" font-size="67.30" font-weight="400" font-style="normal" fill="#000">tells you how much a</text>
<text transform="translate(92.31,2993.70) scale(0.8700,0.9453)" font-size="67.30" font-weight="400" font-style="normal" fill="#000">nutrient in a serving of food contributes to a</text>
<text transform="translate(91.83,3068.10) scale(0.8740,0.9453)" font-size="67.30" font-weight="400" font-style="normal" fill="#000">daily diet</text>
<text transform="translate(323.97,3068.10) scale(0.8740,1.0000)" font-size="67.30" font-weight="400" font-style="normal" fill="#000">. 2,000 </text>
<text transform="translate(520.19,3068.10) scale(0.8740,0.9453)" font-size="67.30" font-weight="400" font-style="normal" fill="#000">calories a day is used for</text>
<text transform="translate(91.83,3143.20) scale(0.8750,0.9453)" font-size="67.30" font-weight="400" font-style="normal" fill="#000">general nutrition advice</text>
<text transform="translate(700.72,3143.20) scale(0.8750,1.0000)" font-size="67.30" font-weight="400" font-style="normal" fill="#000">.</text>
<rect x="25.20" y="3195.40" width="1394.60" height="2.80" fill="#333"/>
<text transform="translate(51.05,3267.60) scale(0.8966,1.0000)" font-size="56.10" font-weight="400" font-style="normal" fill="#000" stroke="#000" stroke-width="0.20" stroke-linejoin="miter" stroke-miterlimit="2">C</text>
<text transform="translate(87.37,3267.60) scale(0.8966,0.9453)" font-size="56.10" font-weight="400" font-style="normal" fill="#000" stroke="#000" stroke-width="0.20" stroke-linejoin="miter" stroke-miterlimit="2">alories per gram</text>
<text transform="translate(450.82,3267.60) scale(0.8966,1.0000)" font-size="56.10" font-weight="400" font-style="normal" fill="#000" stroke="#000" stroke-width="0.20" stroke-linejoin="miter" stroke-miterlimit="2">:</text>
<text transform="translate(92.16,3331.90) scale(0.9188,1.0000)" font-size="54.94" font-weight="400" font-style="normal" fill="#000" stroke="#000" stroke-width="0.20" stroke-linejoin="miter" stroke-miterlimit="2">F</text>
<text transform="translate(122.99,3331.90) scale(0.9188,0.9453)" font-size="54.94" font-weight="400" font-style="normal" fill="#000" stroke="#000" stroke-width="0.20" stroke-linejoin="miter" stroke-miterlimit="2">at </text>
<text transform="translate(179.12,3331.90) scale(0.9188,1.0000)" font-size="54.94" font-weight="400" font-style="normal" fill="#000" stroke="#000" stroke-width="0.20" stroke-linejoin="miter" stroke-miterlimit="2">9</text>
<text transform="translate(505.96,3331.90) scale(0.9107,1.0000)" font-size="54.94" font-weight="400" font-style="normal" fill="#000" stroke="#000" stroke-width="0.20" stroke-linejoin="miter" stroke-miterlimit="2">C</text>
<text transform="translate(542.09,3331.90) scale(0.9107,0.9453)" font-size="54.94" font-weight="400" font-style="normal" fill="#000" stroke="#000" stroke-width="0.20" stroke-linejoin="miter" stroke-miterlimit="2">arbohydrate </text>
<text transform="translate(823.04,3331.90) scale(0.9107,1.0000)" font-size="54.94" font-weight="400" font-style="normal" fill="#000" stroke="#000" stroke-width="0.20" stroke-linejoin="miter" stroke-miterlimit="2">4</text>
<text transform="translate(1148.76,3331.90) scale(0.9196,1.0000)" font-size="54.94" font-weight="400" font-style="normal" fill="#000" stroke="#000" stroke-width="0.20" stroke-linejoin="miter" stroke-miterlimit="2">P</text>
<text transform="translate(1182.46,3331.90) scale(0.9196,0.9453)" font-size="54.94" font-weight="400" font-style="normal" fill="#000" stroke="#000" stroke-width="0.20" stroke-linejoin="miter" stroke-miterlimit="2">rotein </text>
<text transform="translate(1322.88,3331.90) scale(0.9196,1.0000)" font-size="54.94" font-weight="400" font-style="normal" fill="#000" stroke="#000" stroke-width="0.20" stroke-linejoin="miter" stroke-miterlimit="2">4</text>
<ellipse cx="356.2" cy="3312.6" rx="7.3" ry="8.5" fill="#000"/>
<ellipse cx="1001.9" cy="3312.8" rx="7.2" ry="8.4" fill="#000"/>
</svg>
</body></html>
